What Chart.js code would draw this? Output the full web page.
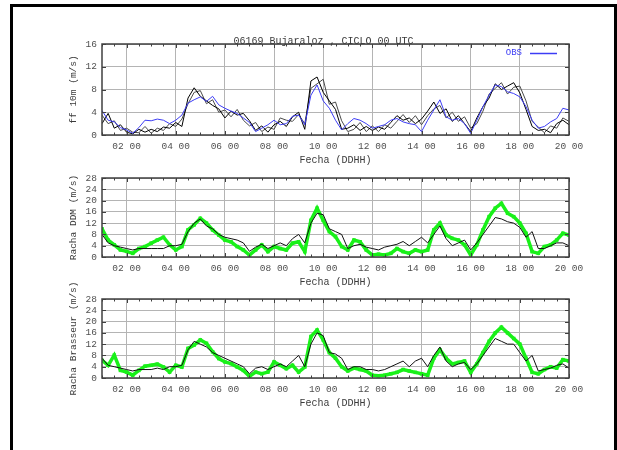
<!DOCTYPE html>
<html>
<head>
<meta charset="utf-8">
<script src="https://cdn.jsdelivr.net/npm/chart.js@4.4.1/dist/chart.umd.min.js"></script>
<style>
  body { margin: 0; background: #fff; }
  #frame { position: absolute; left: 10px; top: 4px; width: 601px; height: 470px; border: 3px solid #000; }
  canvas { position: absolute; left: 0; }
</style>
</head>
<body>
<div id="frame"></div>
<canvas id="ffChart"></canvas>
<canvas id="ddmChart"></canvas>
<canvas id="brasseurChart"></canvas>
<script>
// sampling times, hours of the day (every 15 min)
const hours = [
  1, 1.25, 1.5, 1.75, 2, 2.25, 2.5, 2.75, 3, 3.25, 3.5, 3.75, 4, 4.25, 4.5, 4.75,
  5, 5.25, 5.5, 5.75, 6, 6.25, 6.5, 6.75, 7, 7.25, 7.5, 7.75, 8, 8.25, 8.5, 8.75,
  9, 9.25, 9.5, 9.75, 10, 10.25, 10.5, 10.75, 11, 11.25, 11.5, 11.75, 12, 12.25, 12.5, 12.75,
  13, 13.25, 13.5, 13.75, 14, 14.25, 14.5, 14.75, 15, 15.25, 15.5, 15.75, 16, 16.25, 16.5, 16.75,
  17, 17.25, 17.5, 17.75, 18, 18.25, 18.5, 18.75, 19, 19.25, 19.5, 19.75, 20
];
const hourTicks = [2, 4, 6, 8, 10, 12, 14, 16, 18, 20];
const ffTicks = [0, 4, 8, 12, 16];
const rachaTicks = [0, 4, 8, 12, 16, 20, 24, 28];

// panel 1: ff 10m
const ffObs = [
  4.3, 2.6, 2.3, 1.3,  0.9, 0.3, 1.3, 2.6,  2.5, 2.8, 2.6, 2.0,  2.6, 3.5, 5.6, 6.2,
  6.7, 5.9, 6.8, 5.3,  4.7, 4.2, 3.8, 3.0,  2.2, 0.6, 1.2, 1.8,  2.6, 1.8, 2.0, 3.3,
  3.5, 1.8, 7.0, 8.8,  6.0, 4.7, 2.6, 0.9,  2.0, 2.9, 2.6, 2.0,  1.2, 1.5, 1.8, 2.6,
  2.9, 2.3, 2.0, 1.8,  0.6, 2.6, 4.4, 6.2,  3.2, 2.6, 2.9, 2.0,  0.3, 2.6, 5.0, 7.0,
  8.8, 8.5, 7.6, 7.3,  6.7, 5.0, 2.6, 1.2,  1.5, 2.3, 2.9, 4.7,  4.4
];
const ffModelA = [
  2.0, 3.8, 1.2, 1.8,  0.5, 0.2, 1.0, 0.5,  1.0, 0.6, 1.4, 1.2,  2.2, 1.5, 6.5, 8.3,
  6.8, 6.0, 5.2, 4.6,  3.0, 4.2, 3.5, 3.8,  2.5, 0.8, 1.6, 0.5,  1.8, 2.4, 1.5, 3.2,
  4.0, 1.0, 9.5, 10.2, 7.5, 6.0, 4.5, 1.0,  1.2, 1.8, 0.8, 1.5,  0.8, 1.4, 1.0, 2.2,
  3.4, 2.6, 3.0, 2.0,  2.8, 4.2, 5.8, 3.8,  4.6, 2.4, 3.4, 2.0,  0.6, 3.0, 5.0, 6.5,
  9.0, 8.0, 8.6, 9.2,  7.4, 4.5, 1.5, 0.8,  1.0, 0.4, 2.0, 2.6,  1.8
];
const ffModelB = [
  3.5, 2.0, 2.5, 0.8,  1.2, 0.5, 0.4, 1.5,  0.3, 1.2, 0.8, 2.0,  1.5, 2.8, 5.5, 7.5,
  7.8, 5.5, 6.2, 4.0,  4.4, 3.2, 4.5, 2.6,  1.6, 2.2, 0.6, 1.4,  1.0, 3.0, 2.6, 2.4,
  3.6, 2.0, 8.2, 9.0,  9.8, 5.4, 5.8, 2.5,  0.6, 1.0, 2.2, 0.6,  1.6, 0.6, 1.8, 1.2,
  2.4, 3.6, 2.2, 3.4,  1.8, 3.4, 4.6, 5.2,  3.0, 4.0, 2.4, 3.2,  1.2, 2.0, 4.2, 7.2,
  8.2, 9.2, 7.2, 8.4,  8.6, 6.0, 2.4, 1.4,  0.4, 1.6, 1.2, 3.0,  2.4
];

// panel 2: racha DDM
const ddmObs = [
  10, 6, 4.3, 2.5,  2, 1.3, 3, 3.7,  4.9, 6, 7, 4.3,  2.5, 3.7, 9.6, 11.4,
  13.7, 12, 9.6, 7.8,  6, 5.4, 3.7, 2.5,  0.7, 2.5, 4.3, 1.9,  3.7, 3, 2.5, 4.9,
  5.4, 1.9, 13, 17.3,  13, 9, 7.2, 3.7,  2.5, 6, 5.4, 2.5,  0.7, 1, 0.7, 1.3,
  3, 1.9, 1.3, 2.5,  1.9, 2.5, 9.6, 12,  7.8, 6.6, 6, 4.3,  0.7, 4.3, 9.6, 14.3,
  17.3, 19, 15.5, 14.3,  12, 8.4, 1.9, 1.3,  3.7, 4.3, 6, 8.4,  7.8
];
const ddmModel = [
  8, 5, 4, 3.5,  3, 2.5, 3, 3,  3, 3, 3, 4,  4, 4.5, 9, 12,
  13.5, 11, 10, 8,  7, 6.5, 6, 5,  2, 3.5, 4.5, 3,  4, 5, 4, 6.5,
  8, 5, 12, 15.5,  15, 10, 9, 8,  3, 4, 4.5, 3.5,  3, 2.5, 3.5, 4,
  4.5, 5.5, 4, 5.5,  7, 5, 8, 11,  6.5, 4, 5, 6,  2.5, 5, 8, 11,
  14, 13.5, 12.5, 12,  10.5, 7, 9, 3,  3, 4, 5, 5,  4
];

// panel 3: racha Brasseur
const brasseurObs = [
  6.3, 4.5, 8.1, 2.7,  2.1, 1, 2.7, 4.2,  4.5, 4.9, 3.9, 2.1,  4.5, 3.9, 10.5, 11.7,
  13.5, 12.3, 9.3, 6.9,  5.7, 5.1, 3.9, 2.7,  0.6, 2.1, 1.5, 2.1,  5.7, 4.5, 3.3, 4.5,
  2.1, 3.9, 14.7, 17,  13.5, 9, 7, 4,  2.5, 3.5, 3, 2.5,  1, 0.8, 1, 1.5,
  2, 3, 2.5, 2,  1.5, 1, 7, 10,  7, 5, 5.5, 6,  2, 5, 9, 13,
  16, 18, 16, 14,  12, 7, 2, 1.5,  3, 4, 3.5, 6.5,  6
];
const brasseurModel = [
  7, 4.5, 4, 3.5,  3, 2.5, 3, 3,  3, 3.5, 3, 4,  4, 4.5, 10, 13,
  12, 11, 9, 8,  7, 6, 5, 4,  1.5, 3.5, 4, 3,  4, 5, 4, 6,
  8, 4, 12, 16,  15, 9, 8.5, 7,  3, 4, 4, 3,  3, 2.5, 3, 4,
  5, 6, 4, 6,  7, 4, 8, 11,  6, 4, 5, 5.5,  3, 5, 8, 11,
  14, 13, 12, 12,  9, 6, 8, 2.5,  3, 3.5, 4.5, 5,  3.5
];

const MONO = "'Liberation Mono', 'DejaVu Sans Mono', monospace";
const TEXT = '#3a3a3a';

const toPoints = vals => hours.map((h, i) => ({x: h, y: vals[i]}));
const hourLabel = v => String(v).padStart(2, '0') + ' 00';

// gnuplot-like border with inward ticks
const gnuFrame = {
  id: 'gnuFrame',
  afterDatasetsDraw(chart) {
    const {ctx, chartArea: a, scales: {x, y}} = chart;
    ctx.save();
    ctx.strokeStyle = '#404040';
    ctx.lineWidth = 1;
    ctx.beginPath();
    for (let h = x.min; h <= x.max; h += 0.5) {
      const px = Math.round(x.getPixelForValue(h)) + 0.5;
      const len = h % 2 === 0 ? 4 : 2.5;
      ctx.moveTo(px, a.top); ctx.lineTo(px, a.top + len);
      ctx.moveTo(px, a.bottom); ctx.lineTo(px, a.bottom - len);
    }
    y.ticks.forEach(t => {
      const py = Math.round(y.getPixelForValue(t.value)) + 0.5;
      ctx.moveTo(a.left, py); ctx.lineTo(a.left + 4, py);
      ctx.moveTo(a.right, py); ctx.lineTo(a.right - 4, py);
    });
    ctx.stroke();
    ctx.lineWidth = 1.5;
    ctx.strokeRect(a.left, a.top, a.right - a.left, a.bottom - a.top);
    ctx.restore();
  }
};

// title over the first panel and the OBS key
const header = {
  id: 'header',
  afterDraw(chart, args, opts) {
    if (!opts.text) return;
    const {ctx, chartArea: a} = chart;
    ctx.save();
    ctx.font = '10px ' + MONO;
    ctx.fillStyle = TEXT;
    ctx.textAlign = 'center';
    ctx.textBaseline = 'middle';
    ctx.fillText(opts.text, a.left + (a.right - a.left) / 2 - 12, a.top - 3);
    const obs = chart.data.datasets.find(d => d.label === 'OBS');
    if (obs) {
      ctx.font = '9px ' + MONO;
      ctx.fillStyle = obs.borderColor;
      ctx.textAlign = 'right';
      ctx.fillText(obs.label, a.right - 47, a.top + 9);
      ctx.strokeStyle = obs.borderColor;
      ctx.lineWidth = 1.5;
      ctx.beginPath();
      ctx.moveTo(a.right - 39, a.top + 9.5);
      ctx.lineTo(a.right - 12, a.top + 9.5);
      ctx.stroke();
    }
    ctx.restore();
  }
};

function makePanel(id, box, datasets, yTicks, yTitle, titleText) {
  const canvas = document.getElementById(id);
  canvas.style.top = box.top + 'px';
  canvas.width = 617;
  canvas.height = box.height;
  canvas.style.width = '617px';
  canvas.style.height = box.height + 'px';

  return new Chart(canvas, {
    type: 'line',
    data: {datasets},
    options: {
      responsive: false,
      animation: false,
      parsing: false,
      layout: {padding: {top: box.padTop, left: 64, right: 48, bottom: 0}},
      plugins: {
        legend: {display: false},
        tooltip: {enabled: false},
        header: {text: titleText}
      },
      elements: {line: {tension: 0}},
      scales: {
        x: {
          type: 'linear',
          min: 1,
          max: 20,
          afterBuildTicks: s => { s.ticks = hourTicks.map(v => ({value: v})); },
          afterFit: s => { s.height = box.xHeight; },
          grid: {color: '#b4b4b4', drawTicks: false},
          border: {display: false},
          ticks: {
            padding: 6,
            maxRotation: 0,
            autoSkip: false,
            color: '#505050',
            font: {family: MONO, size: 9.5},
            callback: v => hourLabel(v)
          },
          title: {
            display: true,
            text: 'Fecha (DDHH)',
            color: TEXT,
            font: {family: MONO, size: 10},
            padding: {top: 0, bottom: box.titlePad}
          }
        },
        y: {
          min: 0,
          max: yTicks[yTicks.length - 1],
          afterBuildTicks: s => { s.ticks = yTicks.map(v => ({value: v})); },
          afterFit: s => { s.width = 38; },
          grid: {color: '#b4b4b4', drawTicks: false},
          border: {display: false},
          ticks: {
            padding: 5,
            autoSkip: false,
            color: '#505050',
            font: {family: MONO, size: 9.5}
          },
          title: {
            display: true,
            text: yTitle,
            color: TEXT,
            font: {family: MONO, size: 9.5},
            padding: {top: 4, bottom: 0}
          }
        }
      }
    },
    plugins: [gnuFrame, header]
  });
}

const thin = (label, color, vals) => ({
  label, data: toPoints(vals), borderColor: color, borderWidth: 1, pointRadius: 0
});
const gusts = (label, vals) => ({
  label, data: toPoints(vals), borderColor: '#19f019', backgroundColor: '#19f019',
  borderWidth: 3.5, pointRadius: 2.5, pointStyle: 'rect', pointBorderWidth: 0
});

makePanel('ffChart', {top: 30, height: 140, padTop: 14, xHeight: 35, titlePad: 4}, [
  thin('OBS', '#3c3cf5', ffObs),
  thin('modelo A', '#000000', ffModelA),
  thin('modelo B', '#4a4a4a', ffModelB)
], ffTicks, 'ff 10m (m/s)', '06169 Bujaraloz , CICLO 00 UTC');

makePanel('ddmChart', {top: 160, height: 130, padTop: 18, xHeight: 33, titlePad: 2}, [
  thin('modelo', '#111111', ddmModel),
  gusts('obs', ddmObs)
], rachaTicks, 'Racha DDM (m/s)', '');

makePanel('brasseurChart', {top: 270, height: 150, padTop: 29, xHeight: 42, titlePad: 10.6}, [
  thin('modelo', '#111111', brasseurModel),
  gusts('obs', brasseurObs)
], rachaTicks, 'Racha Brasseur (m/s)', '');
</script>
</body>
</html>
